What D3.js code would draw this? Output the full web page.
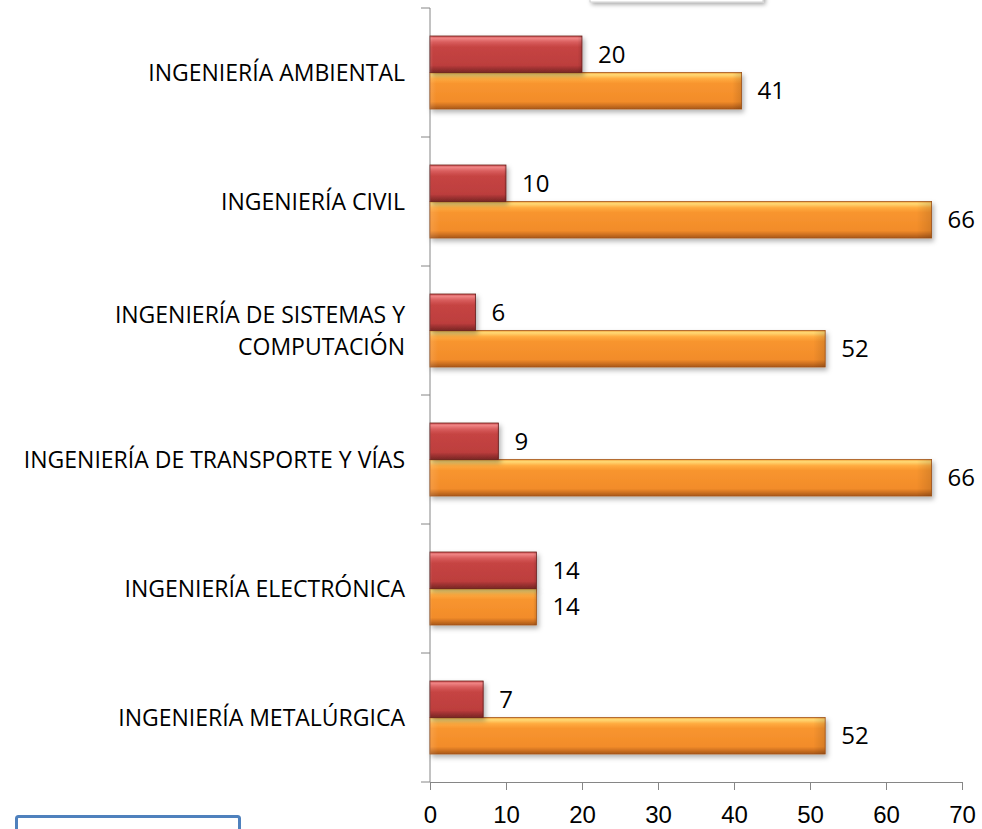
<!DOCTYPE html>
<html>
<head>
<meta charset="utf-8">
<script src="https://cdn.jsdelivr.net/npm/d3@7"></script>
<style>
  body { margin: 0; background: #fff; }
  svg { display: block; font-family: "Open Sans", "Noto Sans", sans-serif; }
</style>
</head>
<body>
<div id="chart"></div>
<script>
// data, top to bottom as drawn
let categories = [
  ["INGENIERÍA AMBIENTAL"],
  ["INGENIERÍA CIVIL"],
  ["INGENIERÍA DE SISTEMAS Y", "COMPUTACIÓN"],
  ["INGENIERÍA DE TRANSPORTE Y VÍAS"],
  ["INGENIERÍA ELECTRÓNICA"],
  ["INGENIERÍA METALÚRGICA"]
];
let redValues = [20, 10, 6, 9, 14, 7];
let orangeValues = [41, 66, 52, 66, 14, 52];
let xTicks = [0, 10, 20, 30, 40, 50, 60, 70];

let svgWidth = 982;
let svgHeight = 829;

let margin = { top: 8, left: 430, right: 20, bottom: 47 };
let width = 532;
let height = svgHeight - margin.top - margin.bottom;

let svg = d3.select("#chart")
  .append("svg")
  .attr("width", svgWidth)
  .attr("height", svgHeight);

let defs = svg.append("defs");

// vertical gradients to fake the bevel look
function barGradient(id, stops) {
  let g = defs.append("linearGradient")
    .attr("id", id)
    .attr("x1", 0).attr("y1", 0).attr("x2", 0).attr("y2", 1);
  stops.forEach(s => g.append("stop").attr("offset", s[0]).attr("stop-color", s[1]));
}
barGradient("gradRed", [
  [0, "#c9494a"], [0.06, "#f08585"], [0.17, "#d85c5c"], [0.3, "#c64443"],
  [0.8, "#bd3e3d"], [0.9, "#9a3130"], [1, "#7a2726"]
]);
barGradient("gradOrange", [
  [0, "#f2a13c"], [0.06, "#ffda76"], [0.17, "#ffab40"], [0.3, "#f8952f"],
  [0.8, "#f28c2a"], [0.9, "#cf7220"], [1, "#a8581a"]
]);

// side bevel shading
let side = defs.append("linearGradient")
  .attr("id", "gradSide")
  .attr("x1", 0).attr("y1", 0).attr("x2", 1).attr("y2", 0);
side.append("stop").attr("offset", 0).attr("stop-color", "#fff").attr("stop-opacity", 0.12);
side.append("stop").attr("offset", 0.02).attr("stop-color", "#fff").attr("stop-opacity", 0);
side.append("stop").attr("offset", 0.97).attr("stop-color", "#000").attr("stop-opacity", 0);
side.append("stop").attr("offset", 1).attr("stop-color", "#000").attr("stop-opacity", 0.12);

let shadow = defs.append("filter").attr("id", "shadow")
  .attr("x", "-10%").attr("y", "-30%").attr("width", "130%").attr("height", "180%");
shadow.append("feDropShadow")
  .attr("dx", 2).attr("dy", 3).attr("stdDeviation", 2.5)
  .attr("flood-color", "#000").attr("flood-opacity", 0.3);

let boxShadow = defs.append("filter").attr("id", "boxShadow")
  .attr("x", "-10%").attr("y", "-100%").attr("width", "130%").attr("height", "400%");
boxShadow.append("feDropShadow")
  .attr("dx", 2).attr("dy", 2).attr("stdDeviation", 2)
  .attr("flood-color", "#000").attr("flood-opacity", 0.35);

// partially visible legend box at the top
svg.append("rect")
  .attr("x", 590).attr("y", -40)
  .attr("width", 173).attr("height", 42)
  .attr("fill", "#fff")
  .attr("stroke", "#d0d0d0")
  .attr("filter", "url(#boxShadow)");

// text box at the bottom left
svg.append("rect")
  .attr("x", 16.5).attr("y", 816.5)
  .attr("width", 223).attr("height", 40)
  .attr("rx", 2)
  .attr("fill", "none")
  .attr("stroke", "#4f81bd")
  .attr("stroke-width", 3);

let chartGroup = svg.append("g")
  .attr("transform", `translate(${margin.left}, ${margin.top})`);

let x = d3.scaleLinear().domain([0, 70]).range([0, width]);

let y = d3.scaleBand()
  .domain(d3.range(categories.length))
  .range([0, height])
  .paddingInner(0.434)
  .paddingOuter(0.217);

let barH = y.bandwidth() / 2;

// axes
let bottomAxis = d3.axisBottom(x).tickValues(xTicks).tickSize(8).tickSizeOuter(0).tickPadding(16);
let xAxis = chartGroup.append("g")
  .attr("transform", `translate(0, ${height})`)
  .call(bottomAxis);
xAxis.select(".domain").attr("stroke", "#868686");
xAxis.selectAll(".tick line").attr("stroke", "#868686");
xAxis.selectAll(".tick text")
  .attr("fill", "#000")
  .style("font-size", "24px");

// y axis line with boundary ticks
let boundaries = d3.range(categories.length + 1).map(i => i * height / categories.length);
chartGroup.append("line")
  .attr("x1", 0).attr("x2", 0)
  .attr("y1", 0).attr("y2", height)
  .attr("stroke", "#868686");
chartGroup.selectAll(".ytick")
  .data(boundaries)
  .enter()
  .append("line")
  .attr("class", "ytick")
  .attr("x1", -9).attr("x2", 0)
  .attr("y1", d => d).attr("y2", d => d)
  .attr("stroke", "#868686");

// bars
function drawBars(values, offset, grad) {
  let g = chartGroup.append("g");
  g.selectAll("rect.bar")
    .data(values)
    .enter()
    .append("rect")
    .attr("class", "bar")
    .attr("x", 0)
    .attr("y", (d, i) => y(i) + offset)
    .attr("width", d => x(d))
    .attr("height", barH)
    .attr("fill", `url(#${grad})`)
    .attr("stroke", grad === "gradRed" ? "#6e2221" : "#a5561a")
    .attr("stroke-width", 0.8)
    .attr("filter", "url(#shadow)");
  g.selectAll("rect.side")
    .data(values)
    .enter()
    .append("rect")
    .attr("class", "side")
    .attr("x", 0)
    .attr("y", (d, i) => y(i) + offset)
    .attr("width", d => x(d))
    .attr("height", barH)
    .attr("fill", "url(#gradSide)");
  g.selectAll("text")
    .data(values)
    .enter()
    .append("text")
    .attr("x", d => x(d) + 16)
    .attr("y", (d, i) => y(i) + offset + barH / 2)
    .attr("dy", "0.35em")
    .style("font-size", "24px")
    .attr("fill", "#000")
    .text(d => d);
}
drawBars(orangeValues, barH, "gradOrange");
drawBars(redValues, 0, "gradRed");

// category labels
let labelSize = 23;
let labels = chartGroup.selectAll(".catLabel")
  .data(categories)
  .enter()
  .append("text")
  .attr("class", "catLabel")
  .attr("text-anchor", "end")
  .attr("x", -25)
  .attr("y", (d, i) => y(i) + y.bandwidth() / 2)
  .style("font-size", labelSize + "px")
  .attr("fill", "#000");
labels.each(function(lines) {
  let t = d3.select(this);
  let lh = 32;
  lines.forEach((ln, k) => {
    t.append("tspan")
      .attr("x", -25)
      .attr("dy", k === 0 ? (0.35 * labelSize - (lines.length - 1) * lh / 2) : lh)
      .text(ln);
  });
});
</script>
</body>
</html>
